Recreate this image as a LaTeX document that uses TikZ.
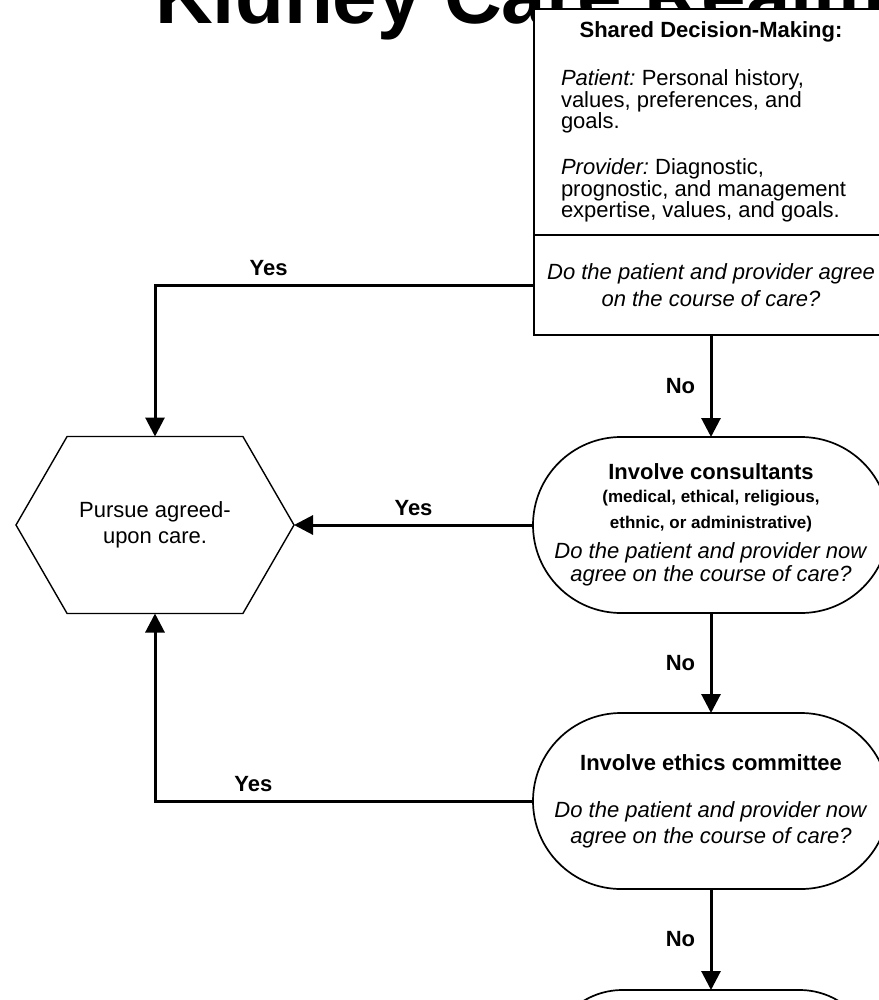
\documentclass[tikz,border=0pt]{standalone}
\usepackage{fontspec}
\setmainfont{Liberation Sans}
\usepackage{tikz}
\usetikzlibrary{arrows.meta, positioning, shapes.symbols}
\tikzset{
    base/.style={draw=black, fill=white, font=\fontsize{22}{26}\selectfont, align=center, inner sep=3pt, outer sep=0pt},
    infobox/.style={base, rectangle, line width=2pt, minimum width=354pt},
    stadium/.style={base, rectangle, rounded corners=88pt, line width=1.7pt, minimum width=356pt, minimum height=176pt},
    hexbox/.style={base, signal, signal to=east and west, signal pointer angle=120, line width=1.4pt, minimum width=278pt, minimum height=177pt},
    titletext/.style={font=\fontsize{80}{80}\selectfont\bfseries, anchor=base west, inner sep=0pt},
    answer/.style={font=\fontsize{22}{26}\selectfont\bfseries},
    flow/.style={-{Triangle[length=19pt, width=19pt]}, line width=3pt, draw=black}
}

\begin{document}
\begin{tikzpicture}[x=1pt, y=1pt]
    \path[fill=white, use as bounding box] (0,0) rectangle (878,-1000);
    \node[titletext] (title) at (155,-24) {Kidney Care Realm};

    \node[infobox, minimum height=226pt, text width=300pt, align=flush left, font=\fontsize{22}{21.5}\selectfont] (sdm) at (711,-122) {\makebox[300pt]{\bfseries Shared Decision-Making:}\\[26.5pt]
        {\itshape Patient:}\kern-2pt{} Personal history,\\ values, preferences, and\\ goals.\\[24.5pt]
        {\itshape Provider:}\kern-2pt{} Diagnostic,\\ prognostic, and management\\ expertise, values, and goals.};
    \node[infobox, minimum height=100pt, below=0pt of sdm, font=\fontsize{22}{27}\selectfont\itshape] (q1) {Do the patient and provider agree\\ on the course of care?};
    \node[stadium, below=102pt of q1, font=\fontsize{22}{23}\selectfont] (cons) {\textbf{Involve consultants}\\
        {\fontsize{17}{23}\selectfont\bfseries (medical, ethical, religious,}\\[3pt]
        {\fontsize{17}{23}\selectfont\bfseries ethnic, or administrative)}\\[7pt]
        \textit{Do the patient and provider now}\\ \textit{agree on the course of care?}};
    \node[stadium, below=100pt of cons] (ethics) {\textbf{Involve ethics committee}\\[21pt]
        \textit{Do the patient and provider now}\\ \textit{agree on the course of care?}};
    \node[stadium, below=101pt of ethics, minimum width=327pt, rounded corners=75pt] (next) {};
    \node[hexbox, left=239pt of cons] (hex) {Pursue agreed-\\upon care.};

    \draw[flow] (q1.west) -| node[answer, above=4pt, pos=0.35] {Yes} (hex.north);
    \draw[flow] (q1.south) -- node[answer, left=11pt] {No} (cons.north);
    \draw[flow] (cons.west) -- node[answer, above=4pt] {Yes} (hex.east);
    \draw[flow] (cons.south) -- node[answer, left=11pt] {No} (ethics.north);
    \draw[flow] (ethics.west) -| node[answer, above=4pt, pos=0.37] {Yes} (hex.south);
    \draw[flow] (ethics.south) -- node[answer, left=11pt] {No} (next.north);
\end{tikzpicture}
\end{document}
